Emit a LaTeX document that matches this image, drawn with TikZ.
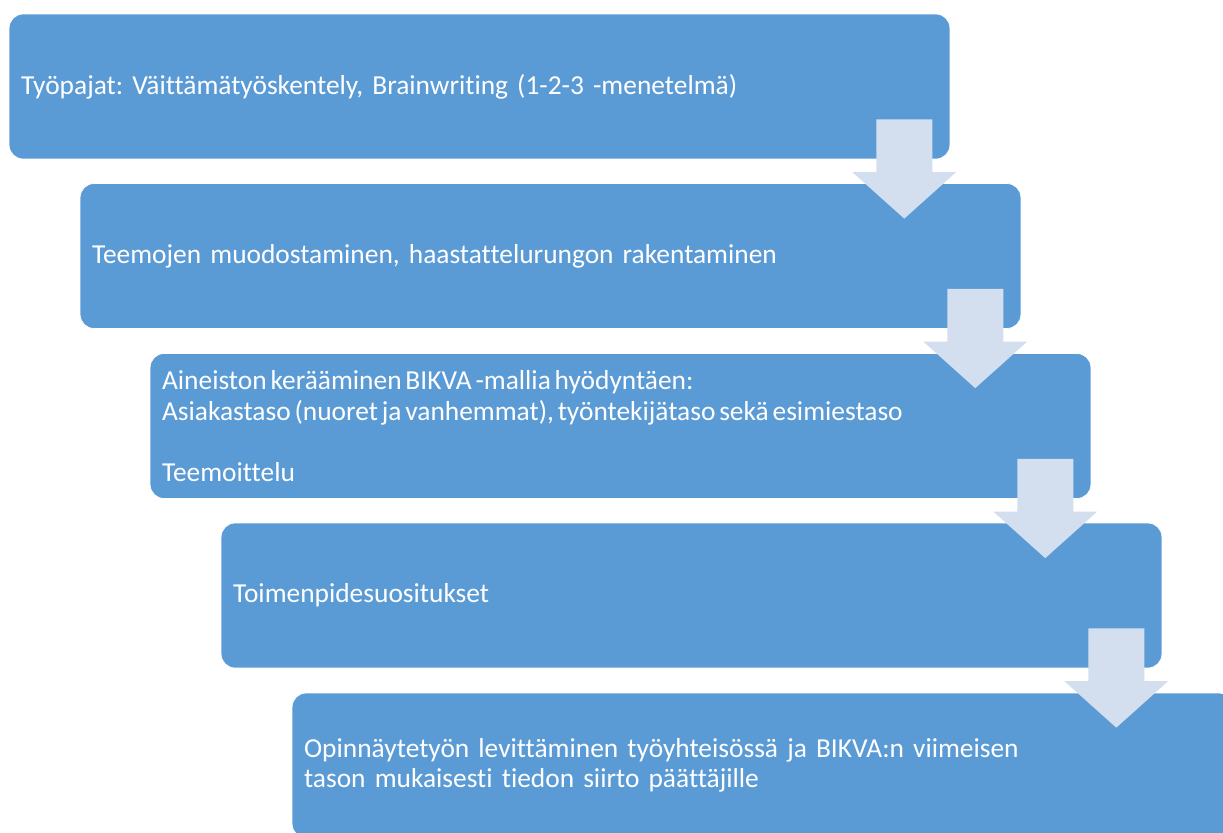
\documentclass[tikz,border=0pt]{standalone}
\usepackage{fontspec}
\setmainfont[Ligatures={NoCommon}]{Carlito}
\usetikzlibrary{calc}
\definecolor{stepblue}{HTML}{5B9BD5}
\definecolor{steplight}{HTML}{D3DEEF}
\tikzset{stepbox/.style={rectangle,rounded corners=0.28cm,fill=stepblue,draw=white,line width=0.4pt,minimum width=18.82cm,minimum height=2.9cm,text width=18.34cm,inner xsep=0.24cm,align=left,text=white,font=\fontsize{15.6}{17.4}\selectfont}}
\tikzset{steparrow/.style={fill=steplight,draw=none}}
\newcommand{\stepdown}[1]{\fill[steparrow] ($(#1.south east)+(-74,-40)$) -- ++(56,0) -- ++(0,52.7) -- ++(24,0) -- ($(#1.south east)+(-46,59.3)$) -- ($(#1.south east)+(-98,12.7)$) -- ++(24,0) -- cycle;}
\frenchspacing

\begin{document}
\begin{tikzpicture}[x=0.02cm,y=-0.02cm]
\clip (0,0) rectangle (1223,832);
\node[stepbox] (T1) at (479.5,86.5) {Työpajat: Väittämätyöskentely, Brainwriting (1-2-3 -menetelmä)};
\node[stepbox] (T2) at (550.5,256) {Teemojen muodostaminen, haastattelurungon rakentaminen};
\node[stepbox] (T3) at (620.5,426) {\spaceskip=0.14em\relax Aineiston kerääminen BIKVA -mallia hyödyntäen:\\Asiakastaso (nuoret ja vanhemmat), työntekijätaso sekä esimiestaso\\[17.4pt]Teemoittelu};
\node[stepbox] (T4) at (691.5,595.5) {Toimenpidesuositukset};
\node[stepbox] (T5) at (762.5,765.5) {Opinnäytetyön levittäminen työyhteisössä ja BIKVA:n viimeisen\\tason mukaisesti tiedon siirto päättäjille};
\stepdown{T1}\stepdown{T2}\stepdown{T3}\stepdown{T4}
\end{tikzpicture}
\end{document}
